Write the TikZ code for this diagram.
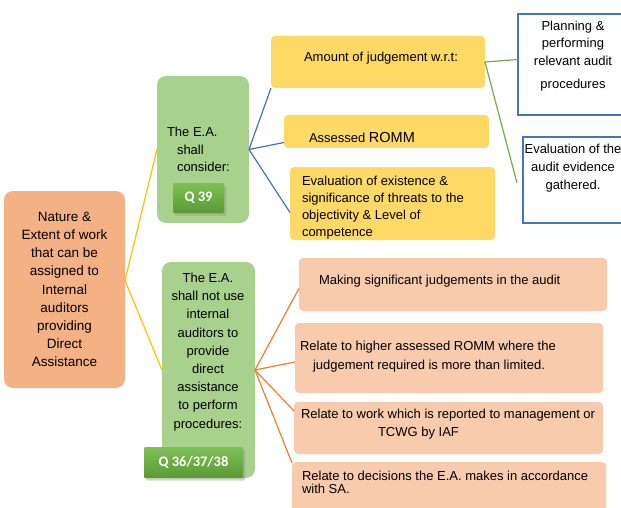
\documentclass[tikz,border=0pt]{standalone}
\usepackage{fontspec}
\setmainfont{Liberation Sans}
\newfontfamily\btnfont{Carlito}
\usetikzlibrary{shadows,calc}
\definecolor{mainfill}{HTML}{F4B183}
\definecolor{greenfill}{HTML}{A9D18E}
\definecolor{yellowfill}{HTML}{FFD966}
\definecolor{orangefill}{HTML}{F8CBAD}
\definecolor{bluelinec}{HTML}{4472C4}
\definecolor{greenlinec}{HTML}{70AD47}
\definecolor{orangelinec}{HTML}{ED7D31}
\definecolor{yellowlinec}{HTML}{FFC000}
\definecolor{btntop}{HTML}{7EBF56}
\definecolor{btnbot}{HTML}{5B9A33}
\begin{document}
\begin{tikzpicture}[x=1pt,y=-1pt,
  boxbase/.style={inner sep=0pt, outer sep=0pt},
  mainbox/.style={boxbase, fill=mainfill, rounded corners=9pt},
  greenbox/.style={boxbase, fill=greenfill, rounded corners=9pt},
  yellowbox/.style={boxbase, fill=yellowfill, rounded corners=4pt},
  orangebox/.style={boxbase, fill=orangefill, rounded corners=4pt},
  bluebox/.style={boxbase, fill=white, draw=bluelinec, line width=1.1pt},
  qbtn/.style={boxbase, top color=btntop, bottom color=btnbot, rounded corners=1pt,
    drop shadow={opacity=0.35, shadow xshift=2pt, shadow yshift=-2.5pt},
    text=white, font=\btnfont\bfseries\fontsize{14.5}{16}\selectfont},
  txt/.style={inner sep=0pt, outer sep=0pt, font=\fontsize{13}{18}\selectfont},
  bline/.style={draw=bluelinec, line width=1.2pt},
  gline/.style={draw=greenlinec, line width=1.2pt},
  oline/.style={draw=orangelinec, line width=1.2pt},
  yline/.style={draw=yellowlinec, line width=1.2pt}
]
\useasboundingbox (0,0) rectangle (621,508);
\clip (0,0) rectangle (621,508);

% boxes
\node[mainbox, minimum width=121pt, minimum height=197pt, align=center,
      font=\fontsize{13.5}{18.2}\selectfont] (main) at (64.5,289.5)
  {Nature \&\\Extent of work\\that can be\\assigned to\\Internal\\auditors\\providing\\Direct\\Assistance};
\node[greenbox, minimum width=92pt, minimum height=147pt] (g1) at (203,149.5) {};
\node[greenbox, minimum width=93pt, minimum height=216pt] (g2) at (208.5,370) {};
\node[qbtn, minimum width=51pt, minimum height=30pt] (q39) at (198.5,198) {Q 39};
\node[qbtn, minimum width=99pt, minimum height=31pt] (q36) at (193.5,462.5) {Q 36/37/38};

\node[yellowbox, minimum width=214pt, minimum height=52pt] (amt) at (378,62) {};
\node[yellowbox, minimum width=205pt, minimum height=33pt] (romm) at (386.5,131.5) {};
\node[yellowbox, minimum width=205pt, minimum height=73pt] (evy) at (392.5,203.5) {};

\node[bluebox, minimum width=122pt, minimum height=101pt] (plan) at (579,64.5) {};
\node[bluebox, minimum width=117pt, minimum height=86pt] (eve) at (581.5,180) {};

\node[orangebox, minimum width=308pt, minimum height=53pt] (o1) at (453,284.5) {};
\node[orangebox, minimum width=308pt, minimum height=70pt] (o2) at (449,358) {};
\node[orangebox, minimum width=309pt, minimum height=52pt] (o3) at (448.5,428) {};
\node[orangebox, minimum width=314pt, minimum height=58pt] (o4) at (449,491) {};

% texts
\node[txt, anchor=west, align=left, font=\fontsize{13}{17.5}\selectfont] (g1t) at (167,149.5)
  {The E.A.\\\hspace*{10pt}shall\\\hspace*{10pt}consider:};
\node[txt, align=center, font=\fontsize{13}{18.2}\selectfont] (g2t) at (208,352)
  {The E.A.\\shall not use\\internal\\auditors to\\provide\\direct\\assistance\\to perform\\procedures:};
\node[txt] (amtt) at (381,58) {Amount of judgement w.r.t:};
\node[txt, anchor=west] (rommt) at (309,137.5) {Assessed {\fontsize{14.5}{16}\selectfont ROMM}};
\node[txt, anchor=west, align=left, font=\fontsize{13}{17}\selectfont] (evyt) at (302,208)
  {Evaluation of existence \&\\significance of threats to the\\objectivity \& Level of\\competence};
\node[txt, align=center, font=\fontsize{13}{17.5}\selectfont] (plant) at (573,56)
  {Planning \&\\performing\\relevant audit\\[6pt]procedures};
\node[txt, align=center] (evet) at (573,168)
  {Evaluation of the\\audit evidence\\gathered.};
\node[txt, anchor=west] (o1t) at (319,281) {Making significant judgements in the audit};
\node[txt, anchor=west, align=left, font=\fontsize{13}{19}\selectfont] (o2t) at (300,356.5)
  {Relate to higher assessed ROMM where the\\\hspace*{13pt}judgement required is more than limited.};
\node[txt, anchor=west, align=left] (o3t) at (301,424)
  {Relate to work which is reported to management or\\\hspace*{77pt}TCWG by IAF};
\node[txt, anchor=west, align=left, font=\fontsize{13}{13.5}\selectfont] (o4t) at (302,482.5)
  {Relate to decisions the E.A. makes in accordance\\with SA.};

% connectors
\draw[yline] (g1.west) -- ($(main.east)+(0,-9)$) -- (g2.west);
\draw[bline] (amt.south west) -- (g1.east);
\draw[bline] ($(romm.west)+(0,11)$) -- (g1.east);
\draw[bline] ($(evy.west)+(0,9)$) -- (g1.east);
\draw[gline] ($(plan.west)+(0,-5)$) -- (amt.east) -- ($(eve.west)+(-6,3)$);
\draw[oline] ($(o1.west)+(0,4)$) -- (g2.east);
\draw[oline] ($(o2.west)+(0,4)$) -- (g2.east);
\draw[oline] ($(o3.west)+(0,-17)$) -- (g2.east);
\draw[oline] ($(o4.north west)+(0,1)$) -- (g2.east);
\end{tikzpicture}
\end{document}
